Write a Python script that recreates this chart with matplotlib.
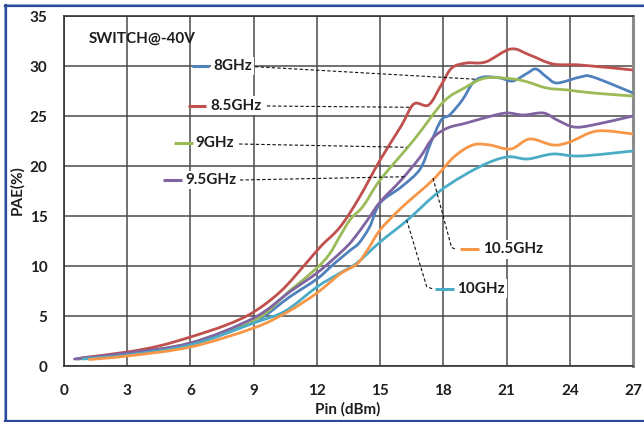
import numpy as np
import matplotlib
matplotlib.use("Agg")
import matplotlib.pyplot as plt
from matplotlib.path import Path
from matplotlib.patches import PathPatch
from matplotlib.lines import Line2D

plt.rcParams['font.family'] = ['Lato', 'DejaVu Sans']

# Pin (dBm) / PAE (%) readings for each frequency
pin_8 = [0.6, 3, 6, 9, 10.7, 12, 12.8, 13.6, 14.0, 14.5, 15, 16, 16.9, 17.4, 17.9, 18.3,
         18.9, 19.4, 19.9, 20.7, 21.3, 22.0, 22.4, 22.9, 23.4, 24.5, 25.1, 27]
pae_8 = [0.7, 1.2, 2.2, 4.4, 6.9, 8.7, 10.2, 11.6, 12.3, 13.9, 16.3, 17.9, 19.7, 22.3, 24.6, 25.1,
         26.6, 28.3, 28.9, 28.8, 28.5, 29.3, 29.7, 28.9, 28.3, 28.9, 28.9, 27.3]

pin_85 = [0.8, 3, 4.5, 6, 7.7, 9, 10.3, 11.5, 12.2, 13.1, 14, 15, 16, 16.6, 17.3, 17.9,
          18.4, 19.1, 20, 21.2, 22.1, 23.2, 24.5, 27]
pae_85 = [0.8, 1.4, 2.0, 2.9, 4.1, 5.4, 7.5, 10.3, 12.0, 13.9, 16.8, 20.6, 24.0, 26.2, 26.1, 28.1,
          29.8, 30.3, 30.4, 31.7, 31.1, 30.2, 30.1, 29.6]

pin_9 = [0.7, 3, 6, 9, 10.7, 12, 12.6, 13.1, 13.6, 14.2, 15, 16.6, 18, 19, 20, 21.3, 22,
         22.9, 23.9, 25.1, 27]
pae_9 = [0.7, 1.2, 2.3, 4.5, 7.5, 9.8, 11.2, 13.0, 14.7, 16.0, 18.6, 22.6, 26.4, 27.8, 28.8, 28.7, 28.4,
         27.8, 27.6, 27.3, 27.0]

pin_95 = [0.5, 3, 6, 9, 10.7, 12, 13.1, 13.7, 14.4, 15, 16, 16.9, 17.5, 18.2, 19.1, 20.1, 21,
          21.8, 22.75, 23.4, 24.2, 25.1, 27]
pae_95 = [0.7, 1.3, 2.3, 4.8, 7.4, 9.3, 11.3, 12.6, 14.6, 16.4, 18.6, 20.9, 22.8, 23.8, 24.3, 24.9, 25.3,
          25.1, 25.3, 24.6, 23.9, 24.1, 25.0]

pin_10 = [0.9, 3, 6, 9, 10.5, 12, 13.1, 13.9, 15, 16.3, 17.9, 19.7, 21, 22, 23.2, 24.5, 27]
pae_10 = [0.7, 1.1, 2.1, 4.3, 5.5, 7.9, 9.3, 10.3, 12.4, 14.6, 17.6, 19.9, 20.9, 20.7, 21.2, 21.0, 21.5]

pin_105 = [1.2, 3, 6, 9, 10.6, 12, 13.1, 13.9, 14.4, 15, 16, 17.5, 18.5, 19.4, 20.2, 21.2,
           22.1, 23.2, 24.0, 25.3, 27]
pae_105 = [0.65, 1.0, 1.9, 3.8, 5.4, 7.3, 9.2, 10.2, 11.6, 13.6, 15.8, 18.6, 20.9, 22.1, 22.1, 21.7,
           22.7, 22.1, 22.4, 23.5, 23.2]

labels = ["8GHz", "8.5GHz", "9GHz", "9.5GHz", "10GHz", "10.5GHz"]
colors = ["#4F81BD", "#C0504D", "#9BBB59", "#8064A2", "#4BACC6", "#F79646"]
series = [(pin_8, pae_8), (pin_85, pae_85), (pin_9, pae_9),
          (pin_95, pae_95), (pin_10, pae_10), (pin_105, pae_105)]

x_ticks = [0, 3, 6, 9, 12, 15, 18, 21, 24, 27]
y_ticks = [0, 5, 10, 15, 20, 25, 30, 35]

W, H = 644, 422
fig = plt.figure(figsize=(W / 100, H / 100), dpi=100)
fig.patch.set_facecolor("white")

L, R, T, B = 64, 633, 16, 366
ax = fig.add_axes([L / W, 1 - B / H, (R - L) / W, (B - T) / H])
ax.set_xlim(0, 27)
ax.set_ylim(0, 35)
ax.set_xticks(x_ticks)
ax.set_yticks(y_ticks)
ax.grid(True, color="#4a4a4a", lw=1.1, zorder=0)
ax.set_axisbelow(True)
ax.tick_params(length=0, labelsize=11, colors="#1e1e1e", pad=12)
ax.tick_params(axis="x", pad=13)
for lab in ax.get_xticklabels() + ax.get_yticklabels():
    lab.set_fontweight("bold")
for s in ["left", "bottom", "top"]:
    ax.spines[s].set_color("#333333")
    ax.spines[s].set_linewidth(1.2)
ax.spines["right"].set_color("#8c8c8c")
ax.spines["right"].set_linewidth(2.2)


def smooth_path(xs, ys):
    """Catmull-Rom style smoothed curve expressed as cubic Bezier segments."""
    p = np.column_stack([xs, ys]).astype(float)
    n = len(p)
    verts = [p[0]]
    codes = [Path.MOVETO]
    for i in range(n - 1):
        p0 = p[i - 1] if i > 0 else p[i]
        p1 = p[i]
        p2 = p[i + 1]
        p3 = p[i + 2] if i + 2 < n else p[i + 1]
        c1 = p1 + (p2 - p0) / 6.0
        c2 = p2 - (p3 - p1) / 6.0
        verts += [c1, c2, p2]
        codes += [Path.CURVE4] * 3
    return Path(verts, codes)


for (xs, ys), c in zip(series, colors):
    patch = PathPatch(smooth_path(xs, ys), facecolor="none", edgecolor=c,
                      lw=2.0, capstyle="round", joinstyle="round", zorder=3)
    ax.add_patch(patch)

# Series labels: swatch, boxed name and dashed leader to the curve
label_layout = {
    "8GHz":    dict(sw=(6.07, 6.88, 30.0), tx=(7.07, 30.0),
                    lead=[(9.07, 29.93), (19.59, 28.67)]),
    "8.5GHz":  dict(sw=(5.89, 6.74, 26.05), tx=(6.93, 26.05),
                    lead=[(9.63, 26.0), (16.5, 25.87)]),
    "9GHz":    dict(sw=(5.22, 6.12, 22.27), tx=(6.22, 22.27),
                    lead=[(8.31, 22.2), (16.26, 21.87)]),
    "9.5GHz":  dict(sw=(4.70, 5.60, 18.6), tx=(5.74, 18.6),
                    lead=[(8.35, 18.6), (16.26, 18.93)]),
    "10GHz":   dict(sw=(17.61, 18.51, 7.73), tx=(18.65, 7.73),
                    lead=[(16.26, 14.6), (17.21, 7.93), (17.47, 7.73)]),
    "10.5GHz": dict(sw=(18.79, 19.70, 11.67), tx=(19.89, 11.67),
                    lead=[(17.51, 18.8), (18.39, 11.85), (18.6, 11.67)]),
}

for name, c in zip(labels, colors):
    lay = label_layout[name]
    lx, ly = zip(*lay["lead"])
    ax.plot(lx, ly, color="#111111", lw=0.8, ls=(0, (3, 2)), zorder=4)
    x0, x1, yy = lay["sw"]
    ax.plot([x0, x1], [yy, yy], color=c, lw=2.2, solid_capstyle="butt", zorder=6)
    ax.text(lay["tx"][0], lay["tx"][1], name, fontsize=11, fontweight="bold",
            color="#1e1e1e", ha="left", va="center", zorder=5,
            bbox=dict(boxstyle="square,pad=0.15", fc="white", ec="none"))

ax.text(1.19, 32.7, "SWITCH@-40V", fontsize=11, fontweight="bold",
        color="#1e1e1e", ha="left", va="center", zorder=5)

fig.text(17 / W, 1 - 190 / H, "PAE(%)", rotation=90, fontsize=11, fontweight="bold",
         color="#1e1e1e", ha="center", va="center")
fig.text(348 / W, 1 - 409 / H, "Pin (dBm)", fontsize=11, fontweight="bold",
         color="#1e1e1e", ha="center", va="center")


# Blue frame around the figure
def fx(px):
    return px / W


def fy(py):
    return 1 - py / H


frame = "#2B4A9E"
light = "#9DB3DC"
fig.add_artist(Line2D([fx(4.2), fx(4.2)], [fy(4), fy(422)], color=light, lw=0.8))
fig.add_artist(Line2D([fx(4), fx(W)], [fy(4.2), fy(4.2)], color=light, lw=0.8))
fig.add_artist(Line2D([fx(5.5), fx(5.5)], [fy(5), fy(421)], color=frame, lw=1.6))
fig.add_artist(Line2D([fx(5), fx(W)], [fy(5.6), fy(5.6)], color=frame, lw=1.6))
fig.add_artist(Line2D([fx(5), fx(W)], [fy(420.5), fy(420.5)], color=frame, lw=1.6))

fig.savefig("out.png", dpi=100, facecolor="white")
